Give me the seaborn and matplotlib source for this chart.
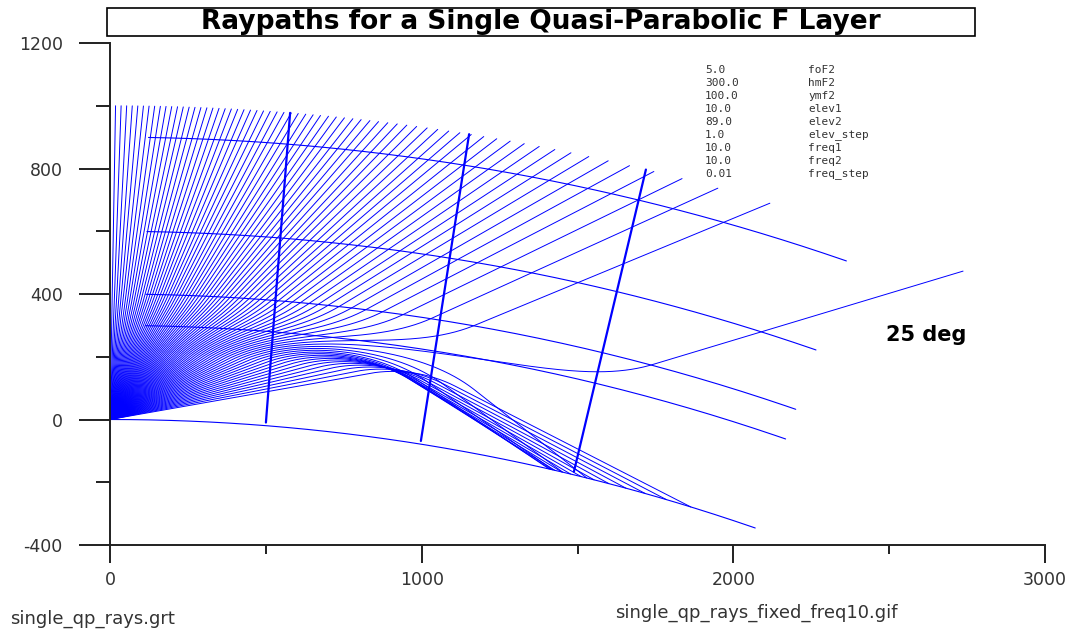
import numpy as np
import pandas as pd
import matplotlib
matplotlib.use("Agg")
import matplotlib.pyplot as plt
from matplotlib.patches import Rectangle
import seaborn as sns

# Parameter block printed on the chart
param_values = ["5.0", "300.0", "100.0", "10.0", "89.0", "1.0", "10.0", "10.0", "0.01"]
param_names = ["foF2", "hmF2", "ymf2", "elev1", "elev2", "elev_step", "freq1", "freq2", "freq_step"]

# Layer / sweep values read from that block
foF2 = 5.0      # MHz
hmF2 = 300.0    # km
ymF2 = 100.0    # km semi-thickness
elev1, elev2, elev_step = 10.0, 89.0, 1.0
freq = 10.0     # MHz

# Reference marks drawn on the chart
contour_heights = [300, 400, 600, 900]   # km
range_marks = [500, 1000, 1500]          # km ground range
x_ticks = [0, 1000, 2000, 3000]
y_ticks = [-400, 0, 400, 800, 1200]

R_EARTH = 6370.0
H_TOP = 1000.0
THETA_END = 0.331     # angular extent of earth / height curves
THETA_START = 0.017   # height curves start a little out from the transmitter


def trace_rays(elevs, ds=1.0, max_steps=9000):
    # ray tracing through a quasi-parabolic layer, spherical earth, RK4 in path length
    rm = R_EARTH + hmF2
    rb = rm - ymF2
    k = (foF2 / freq) ** 2

    def deriv(r, b):
        u = (rb / ymF2) * (1 - rm / r)
        inside = u * u < 1
        X = np.where(inside, k * (1 - u * u), 0.0)
        dX = np.where(inside, -2 * k * u * (rb / ymF2) * rm / r**2, 0.0)
        cb = np.cos(b)
        return np.sin(b), cb / r, cb * (1 / r - dX / (2 * (1 - X)))

    n = len(elevs)
    r = np.full(n, R_EARTH)
    th = np.zeros(n)
    b = np.radians(elevs)
    hr, hth = [r.copy()], [th.copy()]
    active = np.ones(n, bool)
    end = np.full(n, -1)
    for i in range(max_steps):
        a1, c1, e1 = deriv(r, b)
        a2, c2, e2 = deriv(r + ds / 2 * a1, b + ds / 2 * e1)
        a3, c3, e3 = deriv(r + ds / 2 * a2, b + ds / 2 * e2)
        a4, c4, e4 = deriv(r + ds * a3, b + ds * e3)
        rn = r + ds / 6 * (a1 + 2 * a2 + 2 * a3 + a4)
        tn = th + ds / 6 * (c1 + 2 * c2 + 2 * c3 + c4)
        bn = b + ds / 6 * (e1 + 2 * e2 + 2 * e3 + e4)
        r = np.where(active, rn, r)
        th = np.where(active, tn, th)
        b = np.where(active, bn, b)
        hr.append(r.copy())
        hth.append(th.copy())
        done = active & ((r < R_EARTH) | (r > R_EARTH + H_TOP))
        end[done] = i + 1
        active &= ~done
        if not active.any():
            break
    hr = np.array(hr)
    hth = np.array(hth)

    frames = []
    for j, el in enumerate(elevs):
        m = end[j] if end[j] > 0 else len(hr) - 1
        rr = hr[:m + 1, j].copy()
        tt = hth[:m + 1, j].copy()
        # pull the last point back onto the boundary it crossed
        lim = R_EARTH if rr[-1] < R_EARTH else R_EARTH + H_TOP
        t = (lim - rr[-2]) / (rr[-1] - rr[-2])
        tt[-1] = tt[-2] + t * (tt[-1] - tt[-2])
        rr[-1] = lim
        frames.append(pd.DataFrame({"x": rr * np.sin(tt), "y": rr * np.cos(tt) - R_EARTH, "id": el}))
    return pd.concat(frames, ignore_index=True)


elevs = np.arange(elev1, elev2 + elev_step / 2, elev_step)
rays = trace_rays(elevs)

# earth surface and height curves
curves = []
th = np.linspace(0, THETA_END, 200)
curves.append(pd.DataFrame({"x": R_EARTH * np.sin(th), "y": R_EARTH * np.cos(th) - R_EARTH, "id": 0}))
th = np.linspace(THETA_START, THETA_END, 200)
for h in contour_heights:
    rr = R_EARTH + h
    curves.append(pd.DataFrame({"x": rr * np.sin(th), "y": rr * np.cos(th) - R_EARTH, "id": h}))
curves = pd.concat(curves, ignore_index=True)

# ground range markers
radials = []
for g in range_marks:
    t = g / R_EARTH
    rr = R_EARTH + np.array([10.0, H_TOP])
    radials.append(pd.DataFrame({"x": rr * np.sin(t), "y": rr * np.cos(t) - R_EARTH, "id": g}))
radials = pd.concat(radials, ignore_index=True)

sns.set_style("white")
plt.rcParams["font.family"] = ["DejaVu Sans"]

W, H = 1075, 630
fig = plt.figure(figsize=(W / 100, H / 100), dpi=100)
ax = fig.add_axes([110 / W, 1 - 545 / H, (1045 - 110) / W, (545 - 43) / H])

sns.lineplot(data=rays, x="x", y="y", units="id", estimator=None, sort=False,
             color="#0000ff", lw=0.7, legend=False, ax=ax)
sns.lineplot(data=curves, x="x", y="y", units="id", estimator=None, sort=False,
             color="#0000ff", lw=0.8, legend=False, ax=ax)
sns.lineplot(data=radials, x="x", y="y", units="id", estimator=None, sort=False,
             color="#0000ff", lw=1.6, legend=False, ax=ax)

ax.set_xlim(0, 3000)
ax.set_ylim(-400, 1200)
ax.set_xlabel("")
ax.set_ylabel("")
ax.set_xticks(x_ticks)
ax.set_yticks(y_ticks)
ax.set_xticks([500, 1500, 2500], minor=True)
ax.set_yticks([-200, 200, 600, 1000], minor=True)
ax.set_xticklabels([str(v) for v in x_ticks])
ax.set_yticklabels([str(v) for v in y_ticks])

for s in ["top", "right"]:
    ax.spines[s].set_visible(False)
for s in ["left", "bottom"]:
    ax.spines[s].set_color("#202020")
    ax.spines[s].set_linewidth(1.4)

tick_col = "#202020"
ax.tick_params(left=True, bottom=True, which="both")
ax.tick_params(axis="y", which="major", direction="out", length=22, width=1.4,
               color=tick_col, pad=12, labelsize=12.5, labelcolor="#333333")
ax.tick_params(axis="y", which="minor", direction="out", length=10, width=1.4, color=tick_col)
ax.tick_params(axis="x", which="major", direction="out", length=13, width=1.4,
               color=tick_col, pad=6, labelsize=12.5, labelcolor="#333333")
ax.tick_params(axis="x", which="minor", direction="out", length=6.5, width=1.4, color=tick_col)

# boxed title
fig.patches.append(Rectangle((107 / W, 1 - 36 / H), (975 - 107) / W, 28 / H,
                             transform=fig.transFigure, fill=False, ec="black", lw=1.2))
fig.text(541 / W, 1 - 22 / H, "Raypaths for a Single Quasi-Parabolic F Layer",
         ha="center", va="center", fontsize=19, fontweight="bold", color="black")

# parameter listing
mono = ["DejaVu Sans Mono"]
for i, (v, nm) in enumerate(zip(param_values, param_names)):
    yy = 1 - (70 + i * 13) / H
    fig.text(705 / W, yy, v, ha="left", va="center", fontsize=8, family=mono, color="#333333")
    fig.text(808 / W, yy, nm, ha="left", va="center", fontsize=8, family=mono, color="#333333")

ax.text(2490, 268, "25 deg", ha="left", va="center", fontsize=15, fontweight="bold", color="black")

fig.text(10 / W, 1 - 619 / H, "single_qp_rays.grt", ha="left", va="center",
         fontsize=13, color="#333333")
fig.text(615 / W, 1 - 613 / H, "single_qp_rays_fixed_freq10.gif", ha="left", va="center",
         fontsize=13, color="#333333")

fig.savefig("out.png", dpi=100)
